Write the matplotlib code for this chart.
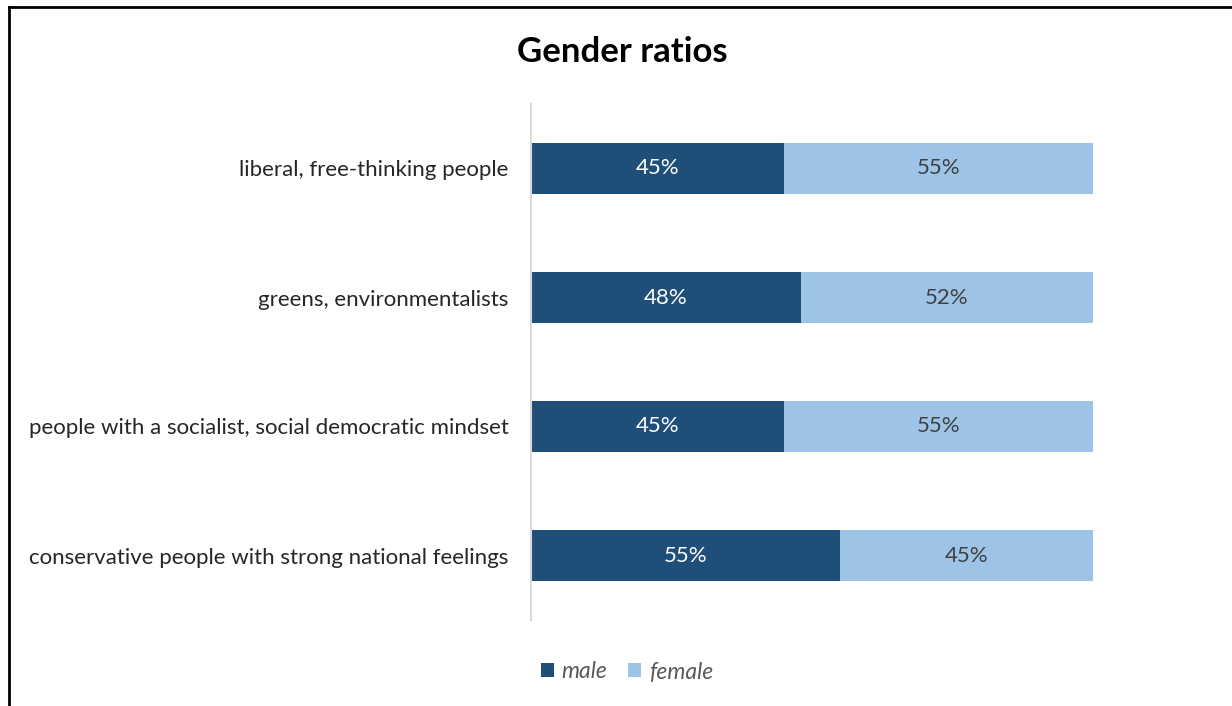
import matplotlib
matplotlib.use("Agg")
import matplotlib.pyplot as plt
from matplotlib.lines import Line2D
from matplotlib.patches import Patch

categories = [
    "liberal, free-thinking people",
    "greens, environmentalists",
    "people with a socialist, social democratic mindset",
    "conservative people with strong national feelings",
]
male = [45, 48, 45, 55]
female = [55, 52, 55, 45]

MALE_COLOR = "#1F4E79"
FEMALE_COLOR = "#9DC3E6"

plt.rcParams["font.family"] = ["Lato", "DejaVu Sans"]

fig = plt.figure(figsize=(12.32, 7.06), dpi=100)
ax = fig.add_axes([531 / 1232, 1 - 620 / 706, (1093 - 531) / 1232, 516 / 706])

y = range(len(categories))
ax.barh(y, male, height=0.4, color=MALE_COLOR, label="male")
ax.barh(y, female, left=male, height=0.4, color=FEMALE_COLOR, label="female")

for i, (m, f) in enumerate(zip(male, female)):
    ax.text(m / 2, i, f"{m}%", ha="center", va="center", color="white", fontsize=16)
    ax.text(m + f / 2, i, f"{f}%", ha="center", va="center", color="#404040", fontsize=16)

ax.set_xlim(0, 100)
ax.set_ylim(len(categories) - 0.5, -0.5)
ax.set_yticks(list(y))
ax.set_yticklabels(categories, fontsize=16, color="#262626")
ax.tick_params(axis="y", length=0, pad=16)
ax.set_xticks([])
for side in ["top", "right", "bottom"]:
    ax.spines[side].set_visible(False)
ax.spines["left"].set_color("#D9D9D9")
ax.spines["left"].set_linewidth(1.5)

fig.text(622 / 1232, 1 - 52 / 706, "Gender ratios", ha="center", va="center",
         fontsize=25, fontweight="bold", color="black")

handles = [Patch(facecolor=MALE_COLOR), Patch(facecolor=FEMALE_COLOR)]
leg = fig.legend(handles, ["male", "female"], loc="center",
                 bbox_to_anchor=(627 / 1232, 1 - 672 / 706), ncol=2, frameon=False,
                 handlelength=0.55, handleheight=0.55, handletextpad=0.35,
                 columnspacing=0.9, prop={"size": 16.5, "style": "italic"})
for t in leg.get_texts():
    t.set_color("#595959")

# outer frame (left and top edges)
fig.add_artist(Line2D([8.5 / 1232, 8.5 / 1232], [0, 1 - 6.5 / 706],
                      transform=fig.transFigure, color="black", linewidth=2))
fig.add_artist(Line2D([8.5 / 1232, 1], [1 - 6.5 / 706, 1 - 6.5 / 706],
                      transform=fig.transFigure, color="black", linewidth=2))

fig.savefig("out.png", dpi=100)
